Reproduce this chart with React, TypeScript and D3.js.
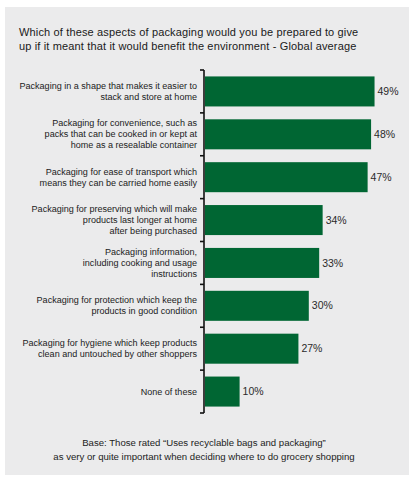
import { useEffect, useRef } from "react";
import * as d3 from "d3";

const categories: string[][] = [
  ["Packaging in a shape that makes it easier to", "stack and store at home"],
  ["Packaging for convenience, such as", "packs that can be cooked in or kept at", "home as a resealable container"],
  ["Packaging for ease of transport which", "means they can be carried home easily"],
  ["Packaging for preserving which will make", "products last longer at home", "after being purchased"],
  ["Packaging information,", "including cooking and usage", "instructions"],
  ["Packaging for protection which keep the", "products in good condition"],
  ["Packaging for hygiene which keep products", "clean and untouched by other shoppers"],
  ["None of these"],
];
const values = [49, 48, 47, 34, 33, 30, 27, 10];

const titleLines = [
  "Which of these aspects of packaging would you be prepared to give",
  "up if it meant that it would benefit the environment - Global average",
];
const footerLines = [
  "Base: Those rated \u201CUses recyclable bags and packaging\u201D",
  "as very or quite important when deciding where to do grocery shopping",
];

const W = 416;
const H = 483;
const GREEN = "#006633";
const FONT = "'Liberation Sans', Arial, sans-serif";

export default function App() {
  const svgRef = useRef<SVGSVGElement>(null);

  useEffect(() => {
    if (!svgRef.current) return;
    const svg = d3.select(svgRef.current);
    svg.selectAll("*").remove();

    // gray panel
    svg.append("rect")
      .attr("x", 5).attr("y", 7)
      .attr("width", 404).attr("height", 468)
      .attr("fill", "#ebebec");

    // title
    svg.append("g")
      .selectAll("text")
      .data(titleLines)
      .join("text")
      .attr("x", 19)
      .attr("y", (_, i) => 36 + i * 14)
      .attr("font-family", FONT)
      .attr("font-size", "11px")
      .attr("letter-spacing", "0.15px")
      .attr("fill", "#1a1a1a")
      .text((d) => d);

    const x = d3.scaleLinear().domain([0, 50]).range([205, 378]);
    const y = d3
      .scaleBand<number>()
      .domain(d3.range(values.length))
      .range([70, 413])
      .paddingInner(0.3)
      .paddingOuter(0.15);

    const step = y.step();
    const bandTop = (i: number) => 70 + i * step;

    // bars
    svg.append("g")
      .selectAll("rect")
      .data(values)
      .join("rect")
      .attr("x", x(0))
      .attr("y", (_, i) => y(i)!)
      .attr("width", (d) => x(d) - x(0))
      .attr("height", y.bandwidth())
      .attr("fill", GREEN);

    // value labels
    svg.append("g")
      .selectAll("text")
      .data(values)
      .join("text")
      .attr("x", (d) => x(d) + 3)
      .attr("y", (_, i) => y(i)! + y.bandwidth() / 2)
      .attr("dy", "0.35em")
      .attr("font-family", FONT)
      .attr("font-size", "10.5px")
      .attr("fill", "#2a2a2a")
      .text((d) => `${d}%`);

    // axis line + ticks
    const axis = svg.append("g").attr("stroke", "#111").attr("stroke-width", 1.6);
    axis.append("line")
      .attr("x1", 204).attr("x2", 204)
      .attr("y1", 70).attr("y2", 413);
    axis.selectAll("line.tick")
      .data(d3.range(values.length + 1))
      .join("line")
      .attr("class", "tick")
      .attr("x1", 200).attr("x2", 204)
      .attr("y1", (i) => 70 + i * step)
      .attr("y2", (i) => 70 + i * step);

    // category labels
    const lh = 11;
    const cat = svg.append("g")
      .selectAll("text")
      .data(categories)
      .join("text")
      .attr("text-anchor", "end")
      .attr("font-family", FONT)
      .attr("font-size", "9.05px")
      .attr("fill", "#222");
    cat.each(function (lines, i) {
      const mid = bandTop(i) + step / 2;
      const start = mid - ((lines.length - 1) * lh) / 2;
      d3.select(this)
        .selectAll("tspan")
        .data(lines)
        .join("tspan")
        .attr("x", 197)
        .attr("y", (_, j) => start + j * lh)
        .attr("dy", "0.35em")
        .text((d) => d);
    });

    // footer
    svg.append("g")
      .selectAll("text")
      .data(footerLines)
      .join("text")
      .attr("x", 204)
      .attr("y", (_, i) => 446 + i * 14)
      .attr("text-anchor", "middle")
      .attr("font-family", FONT)
      .attr("font-size", "9.6px")
      .attr("fill", "#222")
      .text((d) => d);
  }, []);

  return (
    <div style={{ position: "absolute", left: 0, top: 0, width: W, height: H, background: "#fff" }}>
      <svg ref={svgRef} width={W} height={H} style={{ display: "block" }} />
    </div>
  );
}
